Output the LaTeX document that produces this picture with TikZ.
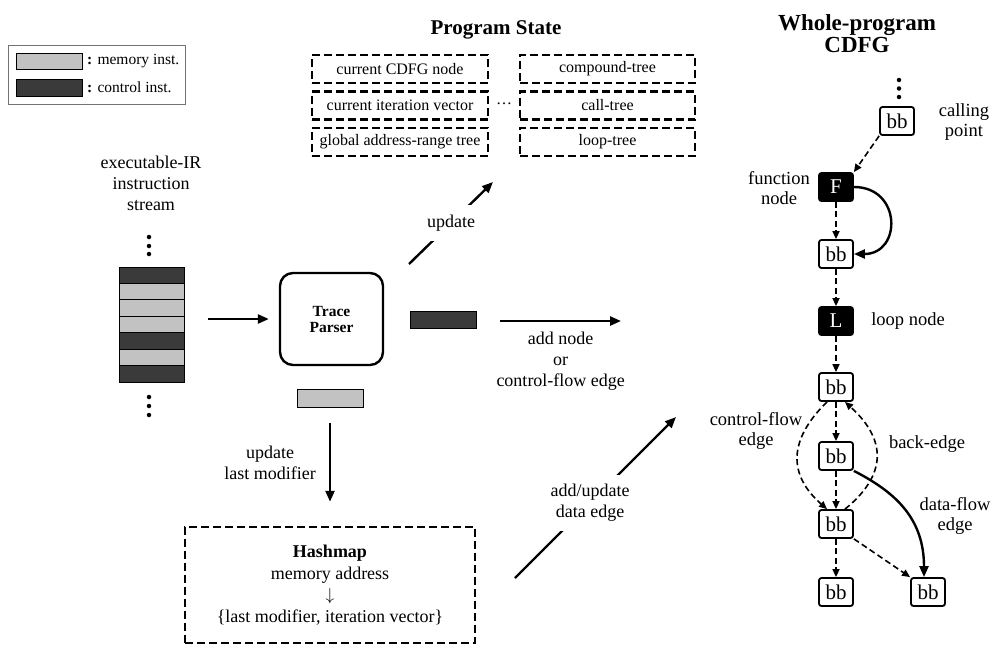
\documentclass[tikz,border=0pt]{standalone}
\usepackage{fontspec}
\setmainfont{Liberation Serif}
\usetikzlibrary{arrows.meta}
\definecolor{memgray}{HTML}{C2C2C2}
\definecolor{ctrlgray}{HTML}{3A3A3A}
\begin{document}
\begin{tikzpicture}[x=1pt,y=-1pt,
  lbl/.style={font=\fontsize{18}{21}\selectfont, align=center, inner sep=1pt},
  glbl/.style={font=\fontsize{18.5}{20}\selectfont, align=center, inner sep=1pt},
  dashbox/.style={draw, line width=2.5pt, dash pattern=on 8pt off 4pt},
  statebox/.style={dashbox, minimum width=175, minimum height=28, inner sep=0, font=\fontsize{16}{19}\selectfont},
  arr/.style={line width=2.4pt, -{Triangle[length=11pt,width=9pt]}},
  instrect/.style={draw, line width=0.9pt, minimum width=66, minimum height=17, inner sep=0},
  bbnode/.style={draw, line width=1.8pt, rounded corners=2.5pt, minimum width=34, minimum height=28, inner sep=0, font=\fontsize{21}{21}\selectfont},
  blknode/.style={bbnode, fill=black, text=white},
  cfe/.style={line width=1.6pt, dash pattern=on 6pt off 3.5pt, -{Triangle[length=8pt,width=7pt]}},
  dfe/.style={line width=2.4pt, -{Triangle[length=11pt,width=9pt]}},
  dot/.style={circle, fill=black, inner sep=0, minimum size=4.5}
]
\useasboundingbox (0,0) rectangle (993,646);

% legend
\node[draw=black!55, line width=1pt, minimum width=177, minimum height=59, inner sep=0] (legend) at (96.5,74.5) {};
\node[instrect, fill=memgray, minimum height=16] (legmem) at (49,61) {};
\node[instrect, fill=ctrlgray] (legctrl) at (49,87.5) {};
\node[anchor=west, font=\fontsize{15.5}{18}\selectfont, inner sep=0] (legmemt) at (87,61) {\textbf{:} memory inst.};
\node[anchor=west, font=\fontsize{15.5}{18}\selectfont, inner sep=0] (legctrlt) at (87,87.5) {\textbf{:} control inst.};

% instruction stream
\node[lbl] (irlbl) at (151,183) {executable-IR\\instruction\\stream};
\node[dot] (du1) at (149,237) {};
\node[dot] (du2) at (149,246) {};
\node[dot] (du3) at (149,254) {};
\foreach \i/\c in {1/ctrlgray,2/memgray,3/memgray,4/memgray,5/ctrlgray,6/memgray,7/ctrlgray}
  \node[instrect, fill=\c, minimum width=65, minimum height=16.43] (s\i) at (151.5,{267+(\i-0.5)*16.43}) {};
\node[dot] (dd1) at (149,397) {};
\node[dot] (dd2) at (149,406) {};
\node[dot] (dd3) at (149,415) {};

% trace parser
\node[draw, line width=2.4pt, rounded corners=13pt, minimum width=103, minimum height=92, align=center,
      font=\bfseries\fontsize{15.5}{16}\selectfont] (parser) at (331.5,319) {Trace\\Parser};
\draw[arr] (parser.west -| s4.east) ++(24,0) -- ([xshift=-10pt]parser.west);
\node[instrect, fill=memgray, minimum height=18] (memout) at (330,398) {};
\node[instrect, fill=ctrlgray] (ctrlout) at (443,319.5) {};

% program state
\node[font=\bfseries\fontsize{21}{24}\selectfont] (pstitle) at (496,30) {Program State};
\node[statebox, minimum width=176] (cnode) at (400,69) {current CDFG node};
\node[statebox, minimum width=176] (citer) at (400,105.5) {current iteration vector};
\node[statebox, minimum width=176] (garange) at (400,142) {global address-range tree};
\node[statebox] (comptree) at (607.5,69) {compound-tree};
\node[statebox] (calltree) at (607.5,105.5) {call-tree};
\node[statebox] (looptree) at (607.5,142) {loop-tree};
\node[font=\fontsize{16}{19}\selectfont, inner sep=0] (ell) at (504,104) {\dots};

\coordinate (updA) at (409,264);
\coordinate (updB) at (493,182);
\draw[arr] (updA) -- (updB) node[pos=0.5, lbl, fill=white, inner ysep=10pt] (updlbl) {update};

% add node arrow
\coordinate (cfgIn) at (621,321);
\draw[arr] ([xshift=24pt]ctrlout.east |- cfgIn) -- (cfgIn)
  node[midway, below=9pt, lbl] (addlbl) {add node\\or\\control-flow edge};

% hashmap
\node[dashbox, minimum width=290, minimum height=116, align=center,
      font=\fontsize{18}{21.5}\selectfont] (hash) at (330,585)
      {\textbf{Hashmap}\\memory address\\$\downarrow$\\\{last modifier, iteration vector\}};
\draw[arr] ([yshift=-16pt]memout.south) -- ([yshift=24pt]hash.north -| memout.south)
  node[midway, left=12pt, lbl] (lmlbl) {update\\last modifier};

\coordinate (datA) at (515,578);
\coordinate (datB) at (676,417);
\draw[arr] (datA) -- (datB) node[pos=0.466, lbl, fill=white, inner ysep=9pt] (datlbl) {add/update\\data edge};

% whole-program CDFG
\node[font=\bfseries\fontsize{23}{22}\selectfont, align=center] (cdfgtitle) at (857,34) {Whole-program\\CDFG};
\node[dot] (dc1) at (899,80) {};
\node[dot] (dc2) at (899,88.5) {};
\node[dot] (dc3) at (899,97) {};
\node[bbnode] (bb0) at (897,121) {bb};
\node[blknode] (F) at (836,187) {F};
\node[bbnode] (bb1) at (836,254) {bb};
\node[blknode] (L) at (836,321) {L};
\node[bbnode] (bb2) at (836,387) {bb};
\node[bbnode] (bb3) at (836,456) {bb};
\node[bbnode] (bb4) at (836,524) {bb};
\node[bbnode] (bb5) at (836,592) {bb};
\node[bbnode] (bb6) at (928,592) {bb};

\node[glbl] (callpt) at (964,122) {calling\\point};
\node[glbl] (fnlbl) at (779,188) {function\\node};
\node[glbl] (looplbl) at (908,321) {loop node};
\node[glbl] (cflbl) at (756,431) {control-flow\\edge};
\node[glbl] (backlbl) at (927,444) {back-edge};
\node[glbl] (dflbl) at (955,516) {data-flow\\edge};

\draw[cfe] (bb0.south west) -- (F.north east);
\draw[cfe] (F) -- (bb1);
\draw[dfe] (F.east) .. controls +(48,0) and +(48,0) .. (bb1.east);
\draw[cfe] (bb1) -- (L);
\draw[cfe] (L) -- (bb2);
\draw[cfe] (bb2) -- (bb3);
\draw[cfe] (bb3) -- (bb4);
\draw[cfe] (bb4) -- (bb5);
\draw[cfe] ([xshift=-9pt]bb2.south) .. controls (788,440) and (788,475) .. ([xshift=-9pt]bb4.north);
\draw[cfe] ([xshift=9pt]bb4.north) .. controls (887,475) and (887,440) .. ([xshift=9pt]bb2.south);
\draw[cfe] (bb4.south east) -- (bb6.north west);
\draw[dfe] (bb3.south east) .. controls (895,492) and (924,518) .. ([xshift=-4pt]bb6.north);
\end{tikzpicture}
\end{document}
